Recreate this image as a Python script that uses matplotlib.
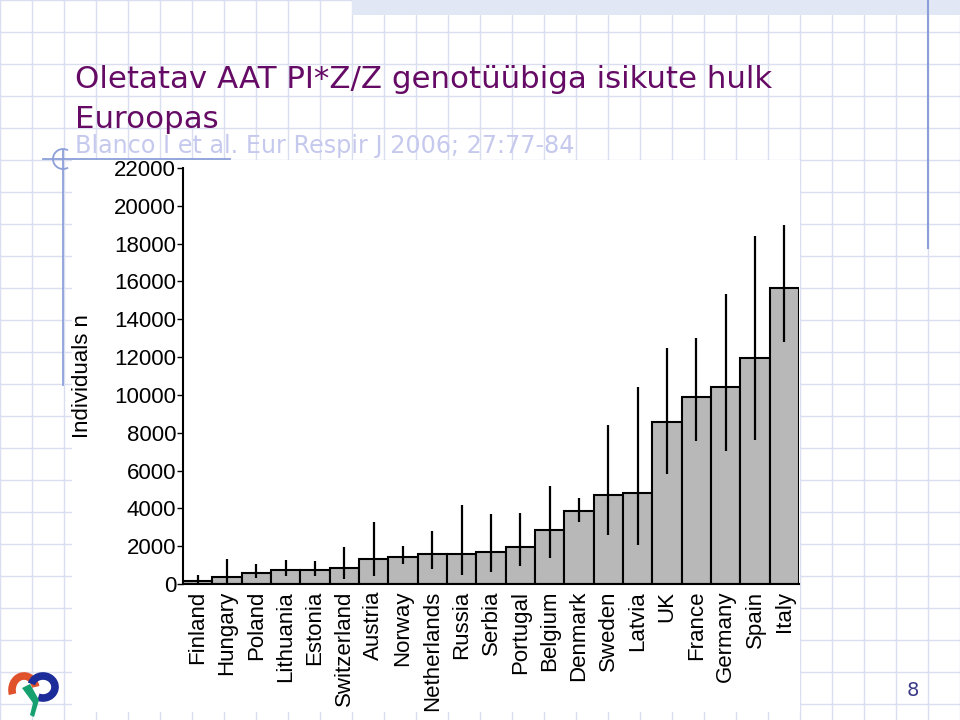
import matplotlib
matplotlib.use("Agg")
import matplotlib.pyplot as plt
from matplotlib.patches import Rectangle, Arc, Polygon
import numpy as np

countries = ["Finland", "Hungary", "Poland", "Lithuania", "Estonia", "Switzerland",
             "Austria", "Norway", "Netherlands", "Russia", "Serbia", "Portugal",
             "Belgium", "Denmark", "Sweden", "Latvia", "UK", "France", "Germany",
             "Spain", "Italy"]
values = [150, 370, 600, 720, 720, 860, 1340, 1440, 1600, 1580, 1670, 1950,
          2850, 3850, 4730, 4800, 8560, 9880, 10410, 11940, 15670]
ci_low = [0, 0, 330, 420, 420, 280, 420, 1040, 775, 475, 650, 950,
          1360, 3270, 2590, 2060, 5820, 7550, 7020, 7620, 12790]
ci_high = [500, 1320, 1050, 1250, 1230, 1950, 3290, 2000, 2800, 4200, 3680, 3730,
           5170, 4550, 8390, 10410, 12470, 13000, 15340, 18420, 19010]
yticks = list(range(0, 22001, 2000))

title_line1 = "Oletatav AAT PI*Z/Z genotüübiga isikute hulk"
title_line2 = "Euroopas"
subtitle = "Blanco I et al. Eur Respir J 2006; 27:77-84"
ylabel = "Individuals n"
page_no = "8"

W, H = 960, 720
fig = plt.figure(figsize=(9.6, 7.2), dpi=100)

# ---------- slide background ----------
bg = fig.add_axes([0, 0, 1, 1], zorder=-10)
bg.set_xlim(0, W)
bg.set_ylim(H, 0)
bg.axis("off")
gridc = "#dadeee"
for gx in range(0, W + 1, 32):
    bg.plot([gx, gx], [0, H], color=gridc, lw=1.0, zorder=1)
for gy in range(0, H + 1, 32):
    bg.plot([0, W], [gy, gy], color=gridc, lw=1.0, zorder=1)
bg.add_patch(Rectangle((352, 0), 608, 15, fc="#e1e7f4", ec="none", zorder=2))
bg.add_patch(Rectangle((72, 160), 728, 552, fc="white", ec="none", zorder=3))
deco = "#8c9fd8"
bg.plot([928, 928], [0, 248], color=deco, lw=1.5, zorder=4)
bg.plot([43, 230], [159, 159], color=deco, lw=1.3, zorder=4)
bg.plot([63, 63], [150, 385], color=deco, lw=1.3, zorder=4)
bg.add_patch(Arc((63, 159), 20, 20, theta1=60, theta2=300, color=deco, lw=1.3, zorder=4))

# logo
bg.add_patch(Arc((24, 690), 24, 28, theta1=-200, theta2=-15, color="#e0522c", lw=5.5, zorder=5))
bg.add_patch(Arc((43, 687), 24, 22, theta1=-165, theta2=115, color="#1c2c98", lw=5.5, zorder=5))
bg.add_patch(Polygon([[22, 688], [30, 684], [39, 700], [34, 717], [30, 715], [33, 703]],
                     closed=True, fc="#16a070", ec="none", zorder=6))

# texts
bg.text(75, 88, title_line1, fontsize=22.2, color="#650a65", family="DejaVu Sans",
        va="baseline", ha="left", zorder=6)
bg.text(75, 128, title_line2, fontsize=22.2, color="#650a65", family="DejaVu Sans",
        va="baseline", ha="left", zorder=6)
bg.text(75, 153, subtitle, fontsize=17.2, color="#c6c9ee", family="DejaVu Sans",
        va="baseline", ha="left", zorder=6)
bg.text(83, 376, ylabel, fontsize=16, rotation=90, family="Liberation Sans",
        ha="center", va="center", zorder=6)
bg.text(913, 690, page_no, fontsize=14, color="#3a3a88", family="DejaVu Sans",
        ha="center", va="center", zorder=6)

# ---------- chart ----------
x0, x1, y0, y1 = 183, 799, 584, 168
ax = fig.add_axes([x0 / W, 1 - y0 / H, (x1 - x0) / W, (y0 - y1) / H], zorder=5)
ax.patch.set_alpha(0)
xs = np.arange(len(countries))
vals = np.array(values, float)
err = [vals - np.array(ci_low), np.array(ci_high) - vals]
ax.bar(xs, vals, width=1.0, color="#b8b8b8", edgecolor="black", linewidth=1.5, zorder=2)
ax.errorbar(xs, vals, yerr=err, fmt="none", ecolor="black", elinewidth=1.6, capsize=0, zorder=3)
ax.set_xlim(-0.5, len(countries) - 0.5)
ax.set_ylim(0, 22000)
ax.set_yticks(yticks)
ax.set_yticklabels([str(t) for t in yticks], fontsize=16, family="Liberation Sans")
ax.set_xticks(xs)
ax.set_xticklabels(countries, rotation=90, fontsize=16, family="Liberation Sans")
ax.tick_params(axis="x", length=0, pad=5)
ax.tick_params(axis="y", length=4, width=1, pad=1)
for s in ["top", "right"]:
    ax.spines[s].set_visible(False)
ax.spines["left"].set_linewidth(1.5)
ax.spines["bottom"].set_linewidth(1.5)

fig.savefig("out.png", dpi=100)
